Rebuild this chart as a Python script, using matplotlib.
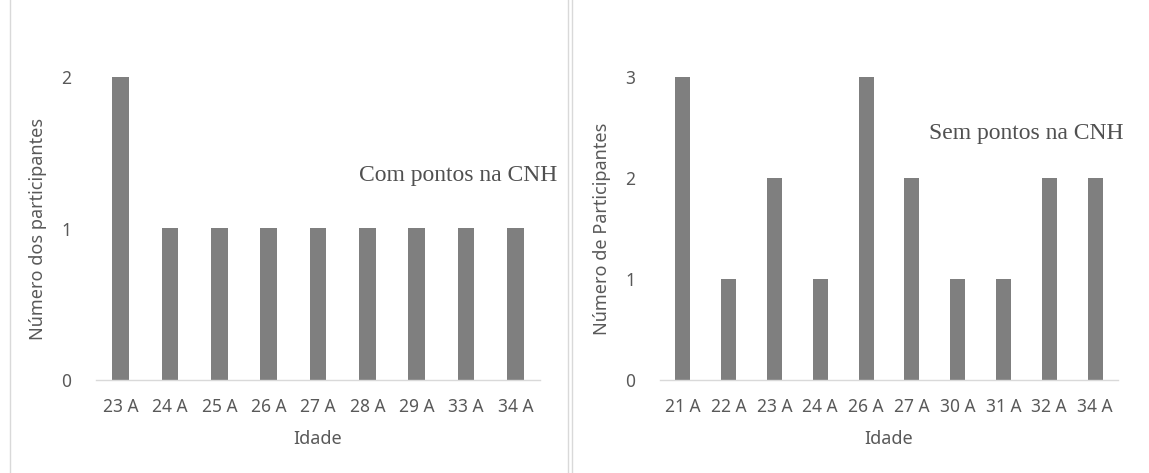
import matplotlib
matplotlib.use("Agg")
from matplotlib import pyplot as plt
from matplotlib.lines import Line2D

# dados
idades_com = ["23 A", "24 A", "25 A", "26 A", "27 A", "28 A", "29 A", "33 A", "34 A"]
n_com = [2, 1, 1, 1, 1, 1, 1, 1, 1]
idades_sem = ["21 A", "22 A", "23 A", "24 A", "26 A", "27 A", "30 A", "31 A", "32 A", "34 A"]
n_sem = [3, 1, 2, 1, 3, 2, 1, 1, 2, 2]

cor_barra = "#7f7f7f"
cor_texto = "#595959"
W, H = 1149, 473

fig = plt.figure(figsize=(W / 100, H / 100), dpi=100)
fig.patch.set_facecolor("white")

def painel(ax, cats, vals, ylabel, ymax, largura):
    ax.bar(range(len(cats)), vals, width=largura, color=cor_barra, zorder=2)
    ax.set_xlim(-0.5, len(cats) - 0.5)
    ax.set_ylim(0, ymax)
    ax.set_yticks(range(ymax + 1))
    ax.set_xticks(range(len(cats)))
    ax.set_xticklabels(cats)
    for s in ["top", "right", "left"]:
        ax.spines[s].set_visible(False)
    ax.spines["bottom"].set_color("#d9d9d9")
    ax.spines["bottom"].set_linewidth(1.0)
    ax.tick_params(length=0, labelsize=12.5, colors=cor_texto, pad=13)
    ax.tick_params(axis="y", pad=18)
    for lab in ax.get_xticklabels() + ax.get_yticklabels():
        lab.set_family("Noto Sans")
    ax.set_xlabel("Idade", fontsize=13, color=cor_texto, family="Noto Sans", labelpad=10)
    ax.set_ylabel(ylabel, fontsize=13, color=cor_texto, family="Noto Sans", labelpad=10)

ax1 = fig.add_axes([96 / W, 1 - 380 / H, 444 / W, 303 / H])
painel(ax1, idades_com, n_com, "Número dos participantes", 2, 0.34)

ax2 = fig.add_axes([660 / W, 1 - 380 / H, 458 / W, 303 / H])
painel(ax2, idades_sem, n_sem, "Número de Participantes", 3, 0.33)

# titulos dentro dos graficos
fig.text(458 / W, 1 - 175 / H, "Com pontos na CNH", ha="center", va="center",
         fontsize=17, family="Liberation Serif", color="#505050")
fig.text(1026 / W, 1 - 133 / H, "Sem pontos na CNH", ha="center", va="center",
         fontsize=17, family="Liberation Serif", color="#505050")

# linhas de borda / separacao
for x in [10, 568, 572]:
    fig.add_artist(Line2D([x / W, x / W], [0, 1], color="#d9d9d9", linewidth=1.0))

fig.savefig("out.png", dpi=100)
